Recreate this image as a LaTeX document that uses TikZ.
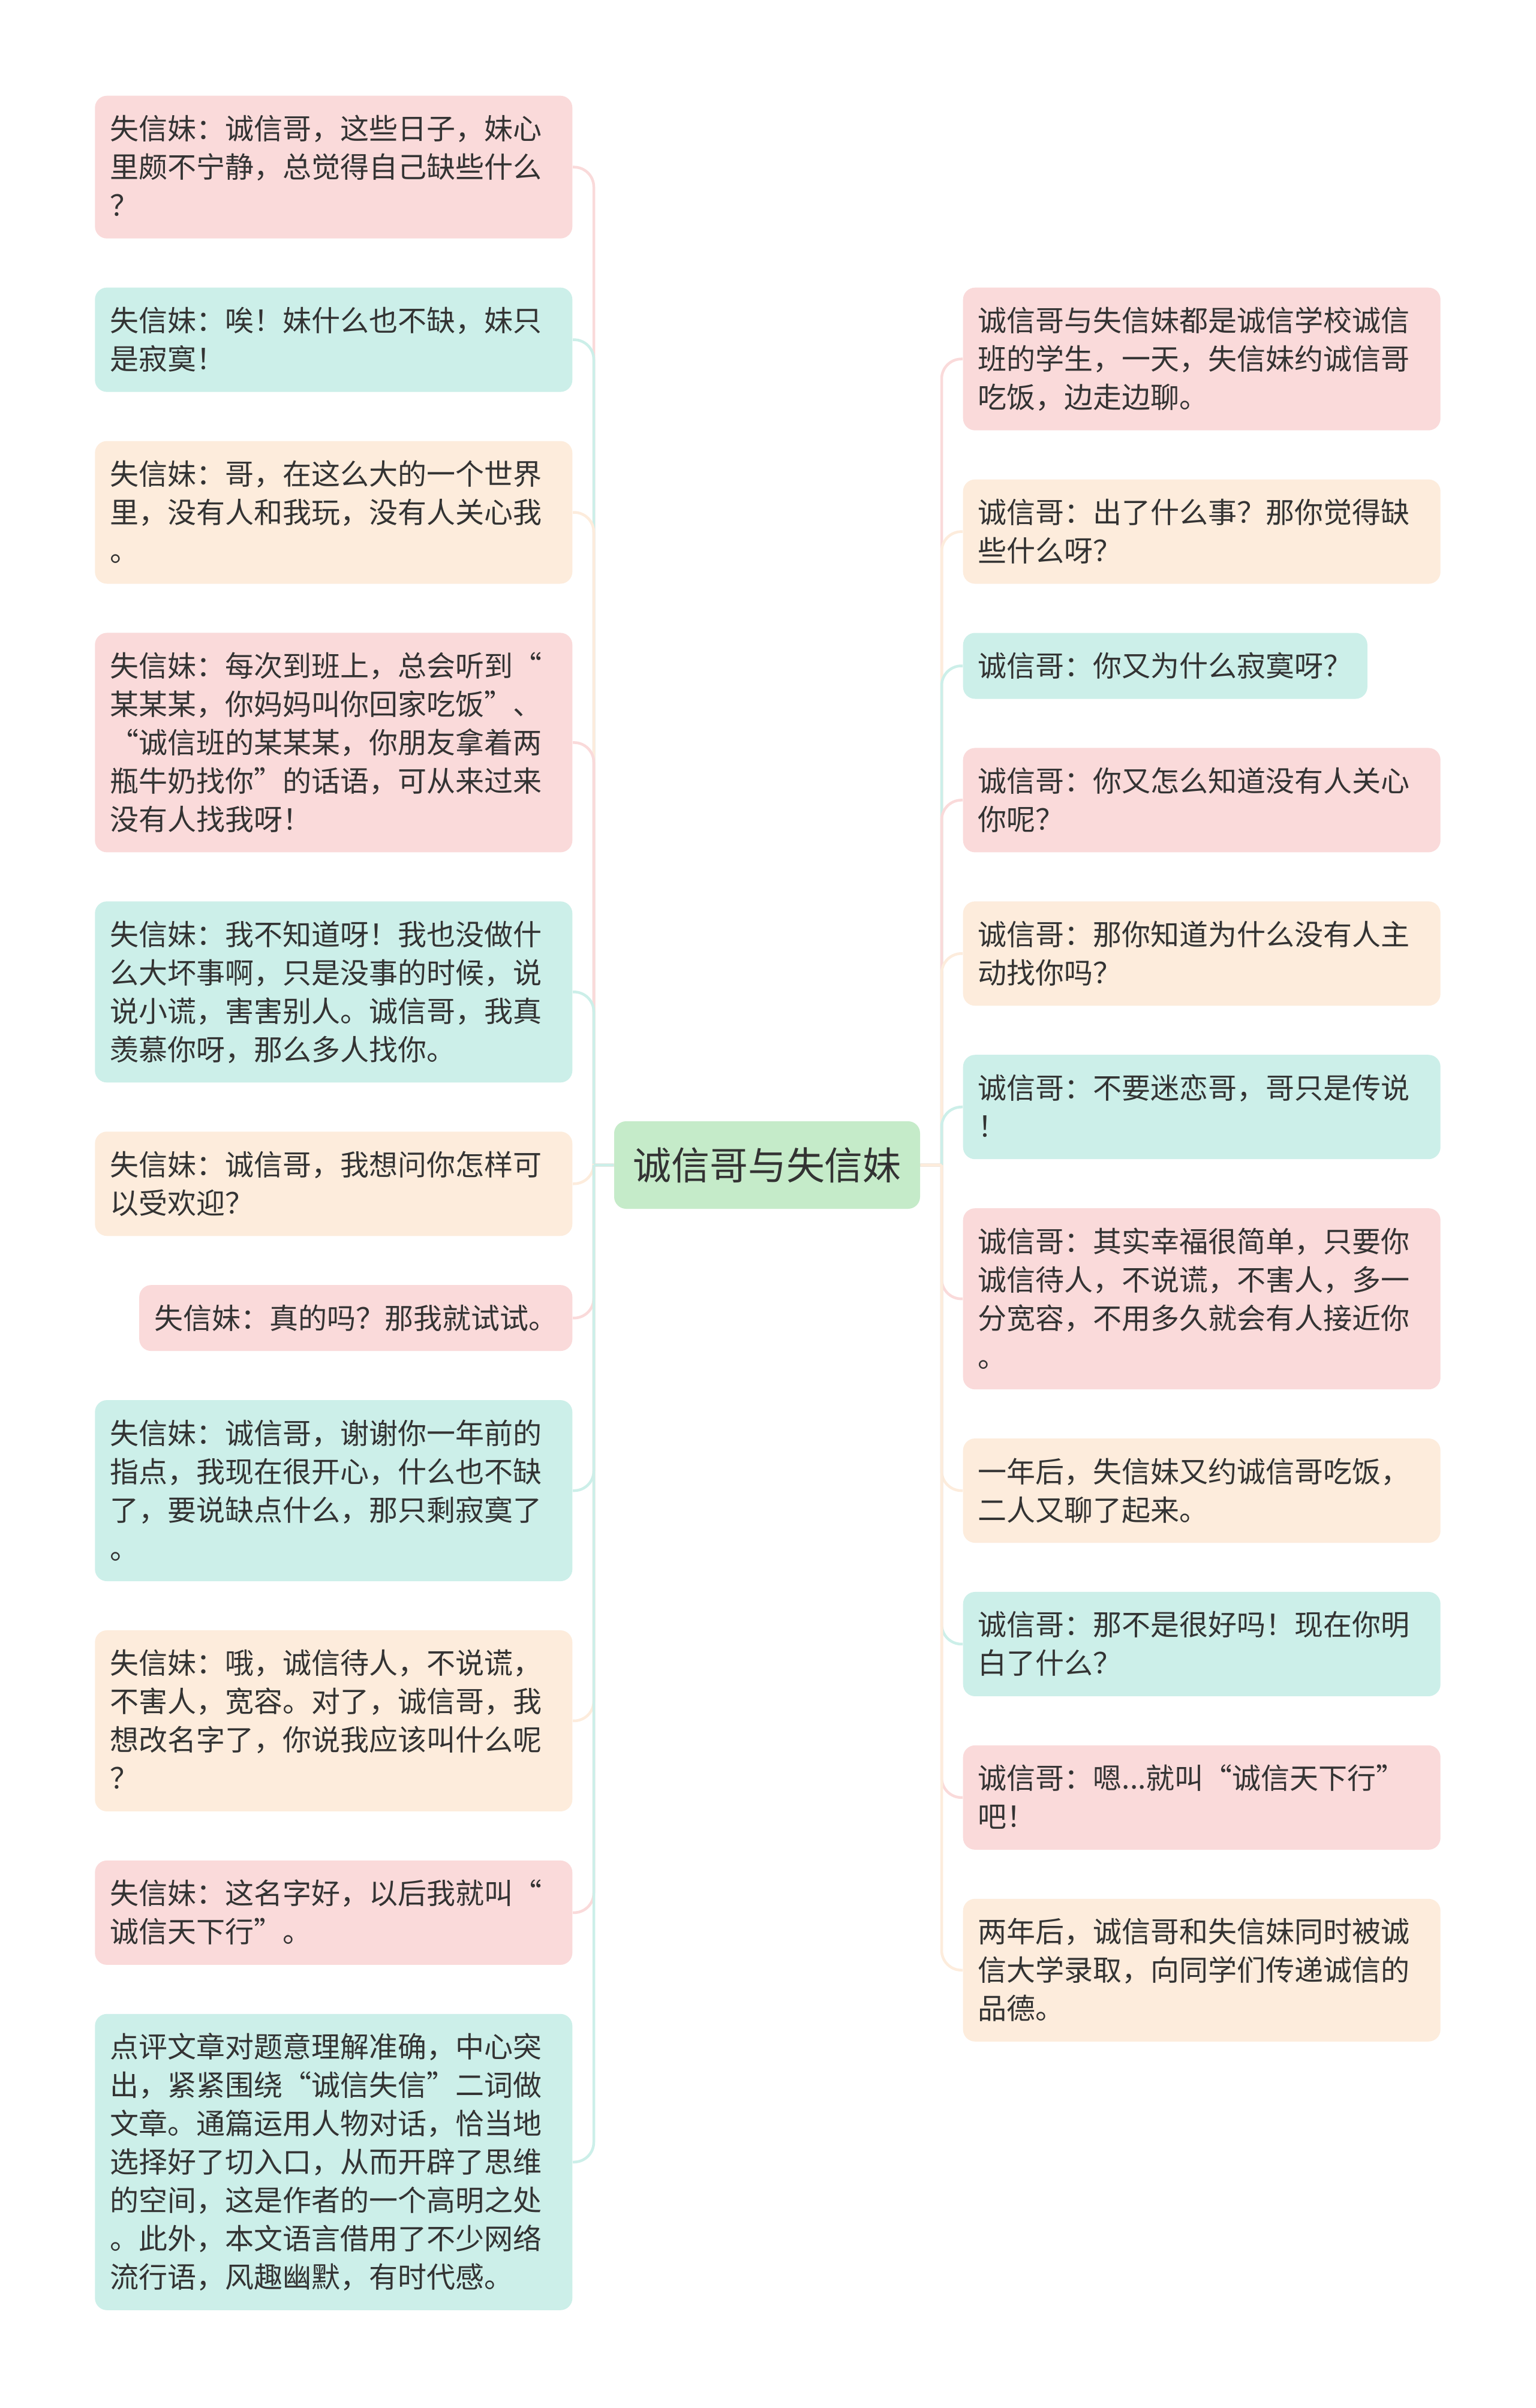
\documentclass[tikz,border=0pt]{standalone}
\usepackage{fontspec}
\setmainfont{Noto Sans CJK SC}
\usepackage{xcolor}
\usetikzlibrary{positioning, backgrounds}
\definecolor{cpink}  {RGB}{250,218,218}
\definecolor{cteal}  {RGB}{204,239,233}
\definecolor{cpeach} {RGB}{253,236,220}
\definecolor{cgreen} {RGB}{197,235,201}
\definecolor{ctext}  {RGB}{51,51,51}
\newcommand\lnstrut{\rule[-0.14cm]{0pt}{0.64cm}}
\tikzset{
  leaf/.style={rectangle, rounded corners=0.2cm, fill=#1, text=ctext,
               font=\fontsize{13.66pt}{18.21pt}\selectfont, align=left,
               inner xsep=0.25cm, inner ysep=0.23cm,
               execute at begin node=\lnstrut, execute at end node=\lnstrut},
  wide/.style={text width=7.46cm},
  mind/.style={rectangle, rounded corners=0.2cm, fill=cgreen, text=ctext,
               font=\fontsize{18.2pt}{22pt}\selectfont,
               minimum width=5.10cm, minimum height=1.46cm, inner sep=0pt},
  branch/.style={draw=#1, line width=0.045cm, rounded corners=0.33cm},
}

\begin{document}
\begin{tikzpicture}
  \useasboundingbox (0,0) rectangle (25.6,-40.16);

  % ── Root ───────────────────────────────────────────────────────────────────
  \node[mind] at (12.79,-19.43) (mind) {诚信哥与失信妹};
  \coordinate (lroot) at (9.90,-19.43);
  \coordinate (rroot) at (15.70,-19.43);

  % ── Left column ────────────────────────────────────────────────────────────
  \node[leaf=cpink, wide, anchor=north east] at (9.55,-1.59) (l1)
    {失信妹：诚信哥，这些日子，妹心\\里颇不宁静，总觉得自己缺些什么\\？};
  \node[leaf=cteal, wide, anchor=north east] at ([yshift=-0.805cm]l1.south east) (l2)
    {失信妹：唉！妹什么也不缺，妹只\\是寂寞！};
  \node[leaf=cpeach, wide, anchor=north east] at ([yshift=-0.805cm]l2.south east) (l3)
    {失信妹：哥，在这么大的一个世界\\里，没有人和我玩，没有人关心我\\。};
  \node[leaf=cpink, wide, anchor=north east] at ([yshift=-0.805cm]l3.south east) (l4)
    {失信妹：每次到班上，总会听到“\\某某某，你妈妈叫你回家吃饭”、\\“诚信班的某某某，你朋友拿着两\\瓶牛奶找你”的话语，可从来过来\\没有人找我呀！};
  \node[leaf=cteal, wide, anchor=north east] at ([yshift=-0.805cm]l4.south east) (l5)
    {失信妹：我不知道呀！我也没做什\\么大坏事啊，只是没事的时候，说\\说小谎，害害别人。诚信哥，我真\\羡慕你呀，那么多人找你。};
  \node[leaf=cpeach, wide, anchor=north east] at ([yshift=-0.805cm]l5.south east) (l6)
    {失信妹：诚信哥，我想问你怎样可\\以受欢迎？};
  \node[leaf=cpink, anchor=north east] at ([yshift=-0.805cm]l6.south east) (l7)
    {失信妹：真的吗？那我就试试。};
  \node[leaf=cteal, wide, anchor=north east] at ([yshift=-0.805cm]l7.south east) (l8)
    {失信妹：诚信哥，谢谢你一年前的\\指点，我现在很开心，什么也不缺\\了，要说缺点什么，那只剩寂寞了\\。};
  \node[leaf=cpeach, wide, anchor=north east] at ([yshift=-0.805cm]l8.south east) (l9)
    {失信妹：哦，诚信待人，不说谎，\\不害人，宽容。对了，诚信哥，我\\想改名字了，你说我应该叫什么呢\\？};
  \node[leaf=cpink, wide, anchor=north east] at ([yshift=-0.805cm]l9.south east) (l10)
    {失信妹：这名字好，以后我就叫“\\诚信天下行”。};
  \node[leaf=cteal, wide, anchor=north east] at ([yshift=-0.805cm]l10.south east) (l11)
    {点评文章对题意理解准确，中心突\\出，紧紧围绕“诚信失信”二词做\\文章。通篇运用人物对话，恰当地\\选择好了切入口，从而开辟了思维\\的空间，这是作者的一个高明之处\\。此外，本文语言借用了不少网络\\流行语，风趣幽默，有时代感。};

  % ── Right column ───────────────────────────────────────────────────────────
  \node[leaf=cpink, wide, anchor=north west] at (16.05,-4.79) (r1)
    {诚信哥与失信妹都是诚信学校诚信\\班的学生，一天，失信妹约诚信哥\\吃饭，边走边聊。};
  \node[leaf=cpeach, wide, anchor=north west] at ([yshift=-0.805cm]r1.south west) (r2)
    {诚信哥：出了什么事？那你觉得缺\\些什么呀？};
  \node[leaf=cteal, anchor=north west] at ([yshift=-0.805cm]r2.south west) (r3)
    {诚信哥：你又为什么寂寞呀？};
  \node[leaf=cpink, wide, anchor=north west] at ([yshift=-0.805cm]r3.south west) (r4)
    {诚信哥：你又怎么知道没有人关心\\你呢？};
  \node[leaf=cpeach, wide, anchor=north west] at ([yshift=-0.805cm]r4.south west) (r5)
    {诚信哥：那你知道为什么没有人主\\动找你吗？};
  \node[leaf=cteal, wide, anchor=north west] at ([yshift=-0.805cm]r5.south west) (r6)
    {诚信哥：不要迷恋哥，哥只是传说\\！};
  \node[leaf=cpink, wide, anchor=north west] at ([yshift=-0.805cm]r6.south west) (r7)
    {诚信哥：其实幸福很简单，只要你\\诚信待人，不说谎，不害人，多一\\分宽容，不用多久就会有人接近你\\。};
  \node[leaf=cpeach, wide, anchor=north west] at ([yshift=-0.805cm]r7.south west) (r8)
    {一年后，失信妹又约诚信哥吃饭，\\二人又聊了起来。};
  \node[leaf=cteal, wide, anchor=north west] at ([yshift=-0.805cm]r8.south west) (r9)
    {诚信哥：那不是很好吗！现在你明\\白了什么？};
  \node[leaf=cpink, wide, anchor=north west] at ([yshift=-0.805cm]r9.south west) (r10)
    {诚信哥：嗯...就叫“诚信天下行”\\吧！};
  \node[leaf=cpeach, wide, anchor=north west] at ([yshift=-0.805cm]r10.south west) (r11)
    {两年后，诚信哥和失信妹同时被诚\\信大学录取，向同学们传递诚信的\\品德。};

  % ── Branches ───────────────────────────────────────────────────────────────
  \begin{scope}[on background layer]
    \fill[white] (0,0) rectangle (25.6,-40.16);
    \foreach \n/\c in {l1/cpink, l2/cteal, l3/cpeach, l4/cpink, l5/cteal, l6/cpeach,
                       l7/cpink, l8/cteal, l9/cpeach, l10/cpink, l11/cteal}
      \draw[branch=\c] (mind) -- (lroot) (lroot) |- (\n);
    \foreach \n/\c in {r1/cpink, r2/cpeach, r3/cteal, r4/cpink, r5/cpeach, r6/cteal,
                       r7/cpink, r8/cpeach, r9/cteal, r10/cpink, r11/cpeach}
      \draw[branch=\c] (mind) -- (rroot) (rroot) |- (\n);
  \end{scope}
\end{tikzpicture}
\end{document}
